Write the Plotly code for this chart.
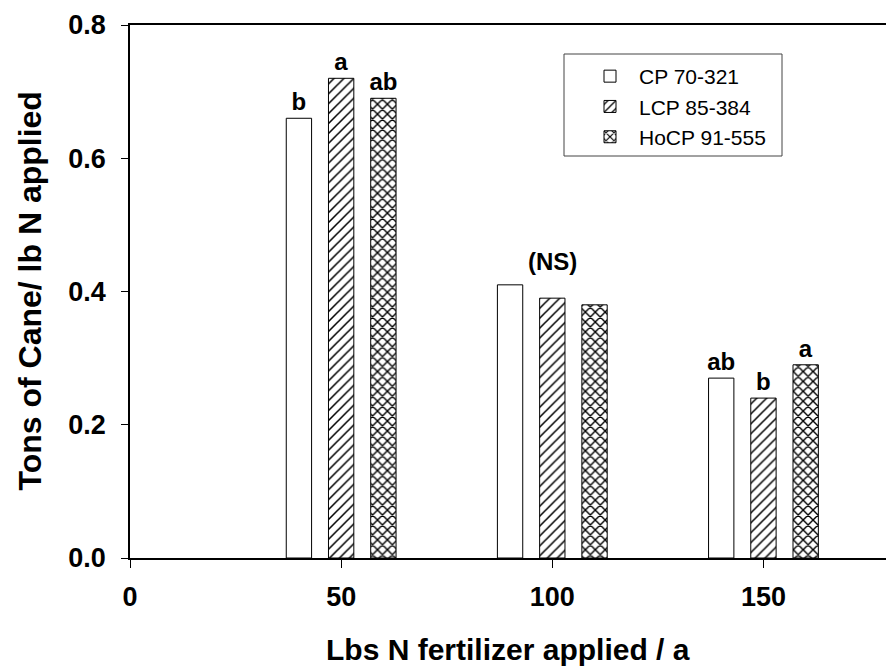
import plotly.graph_objects as go

# ---- data ----
doses = [50, 100, 150]
series_names = ["CP 70-321", "LCP 85-384", "HoCP 91-555"]
cp_vals = [0.66, 0.41, 0.27]
lcp_vals = [0.72, 0.39, 0.24]
hocp_vals = [0.69, 0.38, 0.29]
cp_letters = ["b", "", "ab"]
lcp_letters = ["a", "", "b"]
hocp_letters = ["ab", "", "a"]
ns_label = "(NS)"
ns_dose = 100
x_ticks = [0, 50, 100, 150]
y_ticks = [0.0, 0.2, 0.4, 0.6, 0.8]

FONT = "Liberation Sans, Arial, sans-serif"
W, H = 886, 669
ML, MR, MT, MB = 130, 0, 25, 111

patterns = [dict(shape=""),
            dict(shape="/", size=7, solidity=0.22),
            dict(shape="x", size=7, solidity=0.36)]
values = [cp_vals, lcp_vals, hocp_vals]
letters = [cp_letters, lcp_letters, hocp_letters]

fig = go.Figure()
for name, vals, lets, pat in zip(series_names, values, letters, patterns):
    fig.add_trace(go.Bar(
        x=doses, y=vals, name=name,
        text=lets, textposition="outside", constraintext="none",
        cliponaxis=False,
        textfont=dict(family=FONT, size=24, color="black", weight="bold"),
        marker=dict(color="white", line=dict(color="black", width=1),
                    pattern=dict(fgcolor="black", bgcolor="white", fgopacity=1, **pat)),
    ))

# NS label above the tallest bar of the 100 group
ns_top = max(v[doses.index(ns_dose)] for v in values)
fig.add_annotation(x=ns_dose, y=ns_top, text=ns_label, showarrow=False,
                   yanchor="bottom", yshift=8,
                   font=dict(family=FONT, size=24, color="black", weight="bold"))

# axis titles
fig.add_annotation(xref="paper", yref="paper", x=0.5, y=0, yanchor="middle",
                   yshift=-91, showarrow=False, text="Lbs N fertilizer applied / a",
                   font=dict(family=FONT, size=30, color="black", weight="bold"))
fig.add_annotation(xref="paper", yref="paper", x=0, y=0.5, xanchor="center",
                   xshift=-(ML - 29), textangle=-90, showarrow=False,
                   text="Tons of Cane/ lb N applied",
                   font=dict(family=FONT, size=32, color="black", weight="bold"))

# legend frame
pw = W - ML - MR
ph = H - MT - MB
fig.add_shape(type="rect", xref="paper", yref="paper",
              x0=(564 - ML) / pw, x1=(782 - ML) / pw,
              y0=1 - (156 - MT) / ph, y1=1 - (54 - MT) / ph,
              line=dict(color="#444", width=1), fillcolor="rgba(0,0,0,0)")

fig.update_layout(
    width=W, height=H,
    margin=dict(l=ML, r=MR, t=MT, b=MB, pad=0),
    paper_bgcolor="white", plot_bgcolor="white",
    barmode="group", bargap=0.4, bargroupgap=0.4,
    font=dict(family=FONT, color="black"),
    showlegend=True,
    legend=dict(x=(581 - ML) / pw, y=1 - (56 - MT) / ph, xanchor="left", yanchor="top",
                bgcolor="rgba(0,0,0,0)", borderwidth=0,
                font=dict(family=FONT, size=21, color="black"),
                itemwidth=48, tracegroupgap=0),
)
fig.update_xaxes(range=[0, (W - ML - MR) / 4.223], tickvals=x_ticks,
                 showline=True, linecolor="black", linewidth=1.5, mirror=True,
                 ticks="outside", ticklen=8, tickwidth=1.2, tickcolor="black",
                 showgrid=False, zeroline=False, ticklabelstandoff=6,
                 tickfont=dict(family=FONT, size=27, color="black", weight="bold"))
fig.update_yaxes(range=[0, 0.8], tickvals=y_ticks, tickformat=".1f",
                 showline=True, linecolor="black", linewidth=1.5,
                 ticks="outside", ticklen=7, tickwidth=1.2, tickcolor="black",
                 showgrid=False, zeroline=False, ticklabelstandoff=10,
                 tickfont=dict(family=FONT, size=27, color="black", weight="bold"))

fig.write_html("out.html")
